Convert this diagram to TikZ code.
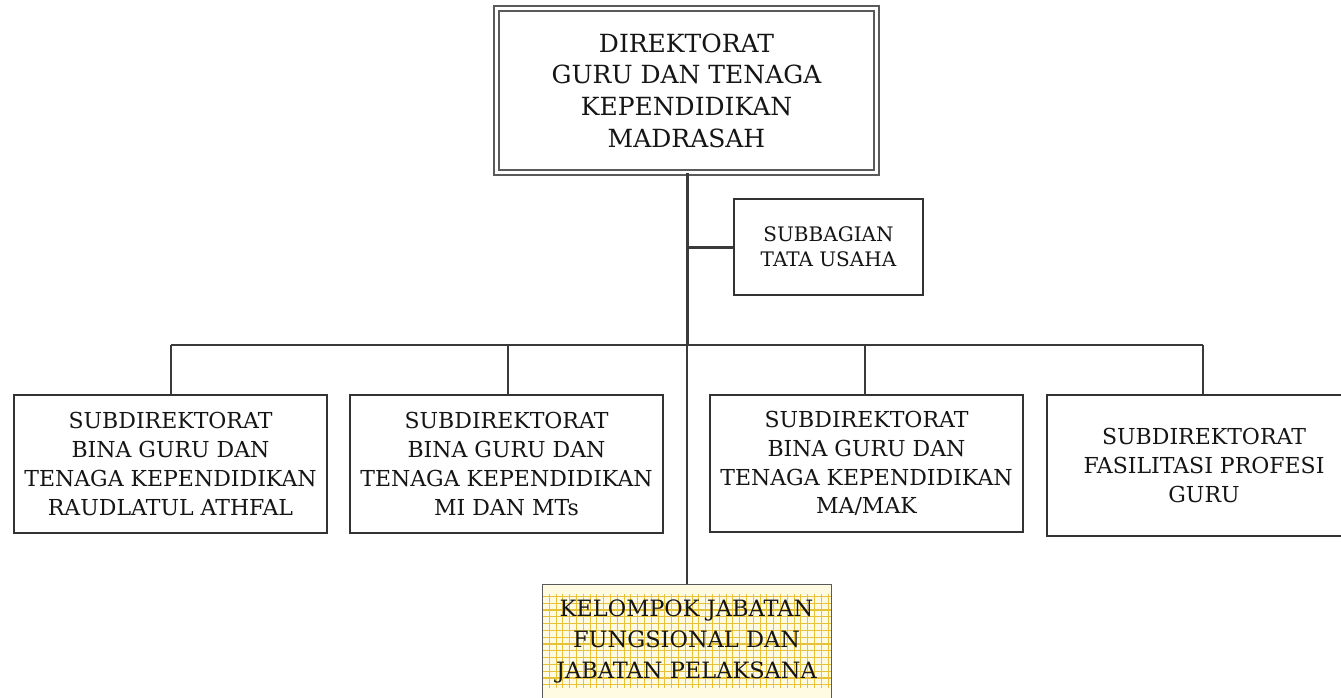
\documentclass[tikz,border=0pt]{standalone}
\usepackage{fontspec}
\setmainfont{DejaVu Serif}
\definecolor{boxc}{HTML}{333333}
\definecolor{topc}{HTML}{5A5A5A}
\definecolor{linec}{HTML}{3A3A3A}
\definecolor{txt}{HTML}{151515}
\definecolor{gridc}{HTML}{E6C23A}
\definecolor{gridbg}{HTML}{FFFBE2}
\begin{document}
\begin{tikzpicture}[x=1pt,y=-1pt,
  box/.style={draw=boxc, line width=2.6pt, inner sep=0pt, align=center, text=txt,
    font=\fontsize{22}{28.7}\selectfont},
  link/.style={draw=linec, line width=1.8pt},
  trunk/.style={draw=linec, line width=3pt},
]
\useasboundingbox (0,0) rectangle (1341,697);
\fill[white] (0,0) rectangle (1341,697);

\node[draw=topc, line width=1.4pt, double, double distance=3.6pt,
  minimum width=380pt, minimum height=164pt, inner sep=0pt, align=center,
  text=txt, font=\fontsize{25}{31.7}\selectfont] (dir) at (686.5,90.5)
  {DIREKTORAT\\GURU DAN TENAGA\\KEPENDIDIKAN\\MADRASAH};

\node[box, minimum width=189pt, minimum height=96pt,
  font=\fontsize{20}{25}\selectfont] (tu) at (828.5,247) {SUBBAGIAN\\TATA USAHA};

\node[box, minimum width=313pt, minimum height=138pt] (s1) at (170.5,464)
  {SUBDIREKTORAT\\BINA GURU DAN\\TENAGA KEPENDIDIKAN\\RAUDLATUL ATHFAL};
\node[box, minimum width=313pt, minimum height=138pt] (s2) at (506.5,464)
  {SUBDIREKTORAT\\BINA GURU DAN\\TENAGA KEPENDIDIKAN\\MI DAN MTs};
\node[box, minimum width=313pt, minimum height=137pt] (s3) at (866.5,463.5)
  {SUBDIREKTORAT\\BINA GURU DAN\\TENAGA KEPENDIDIKAN\\MA/MAK};
\node[box, minimum width=314pt, minimum height=141pt] (s4) at (1204,465.5)
  {SUBDIREKTORAT\\FASILITASI PROFESI\\GURU};

\node[draw=topc, line width=1pt, fill=gridbg, inner sep=0pt, align=center, text=txt,
  minimum width=289pt, minimum height=114pt, font=\fontsize{22.5}{31}\selectfont,
  path picture={\draw[gridc, line width=1.1pt, step=6.8pt]
    ([shift={(-10pt,10pt)}]path picture bounding box.south west) grid
    ([shift={(10pt,-10pt)}]path picture bounding box.north east);}]
  (kj) at (686.5,641) {KELOMPOK JABATAN\\FUNGSIONAL DAN\\JABATAN PELAKSANA};

\coordinate (busC) at (687,345);
\coordinate (busL) at (171,345);
\coordinate (busR) at (1203,345);

\draw[trunk] (dir.south -| busC) -- (busC);
\draw[link] (busC) -- (kj.north -| busC);
\draw[trunk] (tu.west) -- (tu.west -| busC);
\draw[link, line width=2.2pt] (busL) -- (busR);
\draw[link] (busL) -- (busL |- s1.north);
\draw[link] (508,345) -- (508,395);
\draw[link] (865,345) -- (865,395);
\draw[link] (busR) -- (busR |- s4.north);
\end{tikzpicture}
\end{document}
